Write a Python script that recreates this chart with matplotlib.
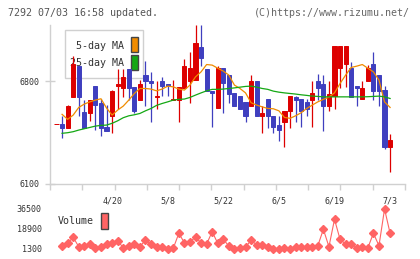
import numpy as np
import matplotlib
matplotlib.use('Agg')
import matplotlib.pyplot as plt
from matplotlib.patches import Rectangle

# daily candles, 61 sessions up to 7/3
opens = [6510, 6510, 6480, 6690, 6900, 6590, 6580, 6770, 6650, 6490,
         6560, 6770, 6750, 6880, 6760, 6670, 6840, 6800, 6690, 6800,
         6780, 6670, 6670, 6750, 6800, 6810, 7030, 6880, 6730, 6620,
         6890, 6840, 6720, 6700, 6660, 6630, 6800, 6560, 6680, 6560,
         6500, 6520, 6600, 6690, 6680, 6660, 6670, 6800, 6780, 6630,
         6700, 6890, 6920, 6890, 6770, 6680, 6800, 6920, 6840, 6740, 6350]
closes = [6510, 6480, 6630, 6920, 6690, 6480, 6670, 6640, 6480, 6460,
          6730, 6780, 6830, 6750, 6600, 6780, 6800, 6790, 6700, 6770,
          6770, 6680, 6760, 6900, 6890, 7060, 6960, 6730, 6720, 6890,
          6790, 6710, 6630, 6610, 6560, 6800, 6560, 6580, 6560, 6490,
          6470, 6600, 6700, 6670, 6600, 6610, 6720, 6750, 6630, 6710,
          7040, 7040, 7040, 6690, 6750, 6750, 6890, 6730, 6730, 6350, 6400]
highs = [6510, 6560, 6640, 6970, 6900, 6670, 6670, 6770, 6680, 6640,
         6740, 6880, 6880, 6880, 6760, 6810, 6940, 6860, 6800, 6830,
         6780, 6810, 6760, 6950, 7000, 7180, 7180, 6880, 6730, 6900,
         6890, 6840, 6720, 6700, 6660, 6840, 6800, 6630, 6680, 6560,
         6560, 6600, 6700, 6700, 6680, 6680, 6800, 6850, 6840, 6800,
         7040, 7040, 7040, 6930, 6770, 6800, 6910, 7000, 6840, 6770, 6440]
lows = [6510, 6410, 6480, 6690, 6560, 6480, 6530, 6470, 6430, 6460,
        6450, 6610, 6690, 6670, 6580, 6670, 6630, 6520, 6610, 6700,
        6700, 6670, 6520, 6750, 6650, 6810, 6900, 6730, 6490, 6620,
        6580, 6650, 6630, 6610, 6520, 6630, 6560, 6450, 6480, 6450,
        6390, 6350, 6480, 6520, 6490, 6560, 6490, 6670, 6460, 6600,
        6610, 6750, 6760, 6690, 6630, 6680, 6800, 6670, 6630, 6340, 6180]

ma5 = [np.nan, 6574, 6540, 6569, 6621, 6644, 6659, 6671, 6680, 6617, 6569,
       6603, 6630, 6671, 6716, 6750, 6750, 6746, 6734, 6746, 6766,
       6761, 6746, 6739, 6773, 6829, 6863, 6913, 6909, 6888, 6868,
       6841, 6773, 6750, 6720, 6653, 6637, 6625, 6614, 6612, 6598,
       6553, 6547, 6564, 6585, 6614, 6637, 6659, 6676, 6691, 6720,
       6784, 6841, 6893, 6902, 6913, 6888, 6863, 6807, 6659, 6621]
ma25 = [np.nan, 6445, 6449, 6456, 6467, 6476, 6485, 6494, 6499, 6501, 6513,
        6530, 6551, 6564, 6571, 6580, 6598, 6614, 6635, 6648, 6659,
        6671, 6676, 6678, 6689, 6705, 6720, 6734, 6744, 6744, 6746,
        6750, 6754, 6759, 6764, 6766, 6759, 6750, 6744, 6732, 6725,
        6720, 6716, 6712, 6707, 6703, 6698, 6696, 6693, 6693, 6693,
        6693, 6693, 6693, 6693, 6693, 6694, 6696, 6698, 6693, 6682]

volume = [np.nan, 4200, 6300, 11600, 3300, 4200, 5400, 1900, 2800, 5400, 6800,
          8600, 2400, 3900, 5400, 3300, 9200, 5400, 2800, 2800, 1300,
          1900, 15100, 6800, 7700, 11600, 6800, 5700, 16500, 6300, 9800,
          3900, 1300, 1900, 2800, 9200, 4800, 4800, 2800, 1300, 1300,
          1900, 1300, 2800, 3300, 2800, 2800, 4200, 18600, 3300, 27400,
          9800, 5700, 5400, 1900, 2800, 2400, 15100, 4200, 36500, 15100]

date_labels = ['4/20', '5/8', '5/22', '6/5', '6/19', '7/3']
date_pos = [10, 20, 30, 40, 50, 60]
price_ticks = [6100, 6800]
vol_ticks = [1300, 18900, 36500]

RED = '#dd0000'
BLUE = '#3f3fbf'
ORANGE = '#f08c00'
GREEN = '#14a814'
PINK = '#ff6464'
GRID = '#d0d0d0'
TXT = '#333333'
mono = 'DejaVu Sans Mono'

W, H = 420, 259
fig = plt.figure(figsize=(W / 100, H / 100), dpi=100)

x = np.arange(len(opens))
o = np.array(opens)
c = np.array(closes)
colors = [RED if cc >= oo else BLUE for oo, cc in zip(o, c)]
xlim = (-1.17, 62.68)

ax = fig.add_axes([50 / W, (H - 184) / H, 355 / W, 159 / H])
ax.set_facecolor('none')
ax.vlines(x, lows, highs, colors=colors, lw=0.9, zorder=3)
ax.bar(x, np.abs(c - o), bottom=np.minimum(o, c), width=0.74,
       color=colors, edgecolor=colors, linewidth=0.7, zorder=4)
ax.plot(x, ma5, color=ORANGE, lw=0.9, zorder=5)
ax.plot(x, ma25, color=GREEN, lw=0.9, zorder=5)
ax.set_xlim(*xlim)
ax.set_ylim(6100, 7182)

for s in ['top', 'right']:
    ax.spines[s].set_visible(False)
for s in ['left', 'bottom']:
    ax.spines[s].set_color(GRID)
    ax.spines[s].set_linewidth(1.0)

ax.set_yticks(price_ticks)
ax.set_yticklabels([str(v) for v in price_ticks], fontfamily=mono, fontsize=6, color=TXT)
ax.tick_params(axis='y', direction='inout', length=7, width=1, color=GRID, pad=4)

ax.set_xticks(date_pos)
ax.set_xticklabels(date_labels, fontfamily=mono, fontsize=6, color=TXT)
ax.set_xticks(np.linspace(xlim[0], xlim[1], 12), minor=True)
ax.tick_params(axis='x', which='major', length=0, pad=9)
ax.tick_params(axis='x', which='minor', direction='out', length=4.5, width=1, color=GRID)


def pa(px, py):
    return ((px - 50) / 355, (184 - py) / 159)


# legend box (drawn under the candles)
ax.add_patch(Rectangle(pa(65, 78), 78 / 355, 48 / 159, transform=ax.transAxes,
                       facecolor='white', edgecolor=GRID, lw=1.0, zorder=1))
ax.text(*pa(124, 46), '5-day MA', transform=ax.transAxes, ha='right', va='center',
        fontfamily=mono, fontsize=7.2, color=TXT, zorder=2)
ax.text(*pa(124, 62.5), '25-day MA', transform=ax.transAxes, ha='right', va='center',
        fontfamily=mono, fontsize=7.2, color=TXT, zorder=2)
ax.add_patch(Rectangle(pa(131, 52.3), 6.7 / 355, 15.6 / 159, transform=ax.transAxes,
                       facecolor=ORANGE, edgecolor='#444444', lw=1.0, zorder=2))
ax.add_patch(Rectangle(pa(131, 70), 6.7 / 355, 15 / 159, transform=ax.transAxes,
                       facecolor=GREEN, edgecolor='#444444', lw=1.0, zorder=2))

# volume panel
vx = fig.add_axes([50 / W, (H - 253) / H, 355 / W, 48 / H])
vx.set_facecolor('none')
vx.plot(x, volume, color=PINK, lw=0.8, marker='D', ms=3.6, mec=PINK, mfc=PINK)
vx.set_xlim(*xlim)
vx.set_ylim(-2220, 40020)
for s in vx.spines.values():
    s.set_visible(False)
vx.set_xticks([])
vx.set_yticks(vol_ticks)
vx.set_yticklabels([str(v) for v in vol_ticks], fontfamily=mono, fontsize=6, color=TXT)
vx.tick_params(axis='y', length=0, pad=6)


def pv(px, py):
    return ((px - 50) / 355, (253 - py) / 48)


vx.text(*pv(58, 221.5), 'Volume', transform=vx.transAxes, ha='left', va='center',
        fontfamily=mono, fontsize=7.2, color=TXT)
vx.add_patch(Rectangle(pv(101, 228.7), 6.7 / 355, 16 / 48, transform=vx.transAxes,
                       facecolor=PINK, edgecolor='#444444', lw=1.0))

fig.text(8 / W, 1 - 12.5 / H, '7292 07/03 16:58 updated.', ha='left', va='center',
         fontfamily=mono, fontsize=7.2, color='#555555')
fig.text(410 / W, 1 - 12.5 / H, '(C)https://www.rizumu.net/', ha='right', va='center',
         fontfamily=mono, fontsize=7.2, color='#666666')

fig.savefig('out.png', dpi=100, facecolor='white')
